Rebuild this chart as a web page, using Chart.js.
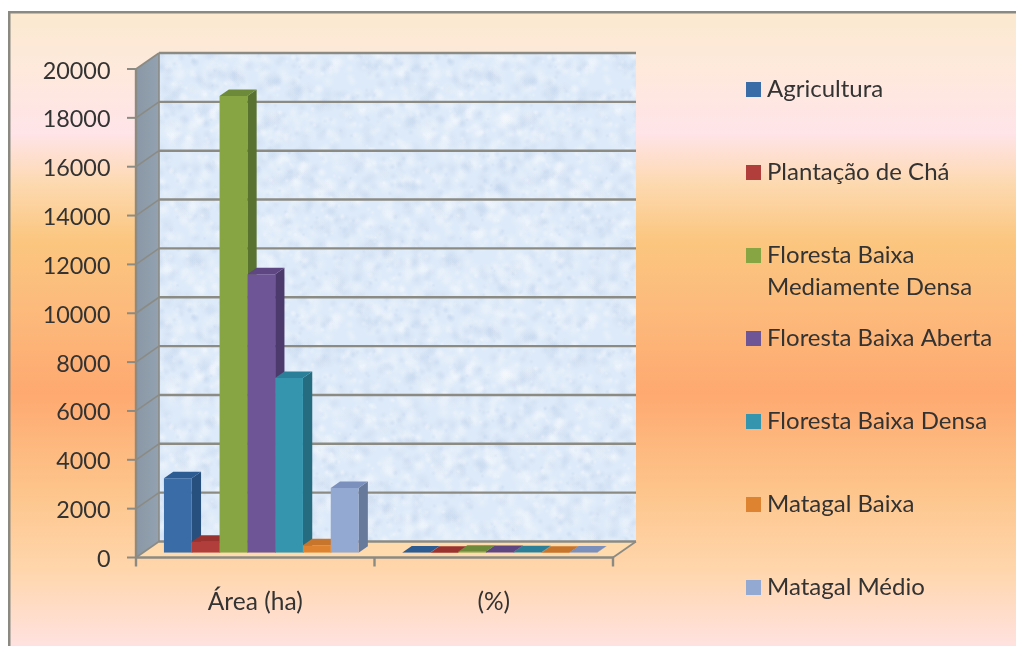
<!DOCTYPE html>
<html><head><meta charset="utf-8">
<style>html,body{margin:0;padding:0;background:#fff}canvas{display:block}</style>
<script src="https://cdn.jsdelivr.net/npm/chart.js@4/dist/chart.umd.js"></script>
</head><body><canvas id="c" width="1016" height="646"></canvas>
<script>
const categories = ['Área (ha)', '(%)'];
const seriesNames = ['Agricultura','Plantação de Chá','Floresta Baixa Mediamente Densa','Floresta Baixa Aberta','Floresta Baixa Densa','Matagal Baixa','Matagal Médio'];
const legendLines = [['Agricultura',''],['Plantação de Chá',''],['Floresta Baixa','Mediamente Densa'],['Floresta Baixa Aberta',''],['Floresta Baixa Densa',''],['Matagal Baixa',''],['Matagal Médio','']];
const agricultura = [3050, 7];
const plantacao = [450, 1];
const florestaMedia = [18700, 43];
const florestaAberta = [11400, 26];
const florestaDensa = [7150, 16];
const matagalBaixa = [300, 1];
const matagalMedio = [2650, 6];
const seriesValues = [agricultura, plantacao, florestaMedia, florestaAberta, florestaDensa, matagalBaixa, matagalMedio];
const frontColors = ['#3A6DA8','#B23E3B','#88A544','#6E5595','#3595AF','#DE8430','#94A9D1'];
const sideColors = ['#27507E','#8C2C2A','#5A7230','#4D3A6D','#256C80','#B4651F','#677A9C'];
const topColors = ['#2C5C91','#9A3330','#6C8A3A','#5D4682','#2C7F98','#C7742C','#7B90BC'];

const AX = 6, AY = 4.8;      // bar plane -> front plane of the box
const DX = 23, DY = -16;     // box depth
const BX = 9.3, BY = -6.5;   // bar depth
const LINE = '#8B8B84';

function wallPattern() {
  const o = document.createElement('canvas'); o.width = o.height = 256;
  const g = o.getContext('2d');
  g.fillStyle = '#DDEAF9'; g.fillRect(0,0,256,256);
  let s = 12345; const r = () => (s = (s * 1103515245 + 12345) & 0x7fffffff) / 0x7fffffff;
  for (let i = 0; i < 1400; i++) {
    const x = r()*256, y = r()*256, rad = 2 + r()*7;
    const c = r() < .6 ? '255,255,255' : '185,204,232';
    for (const [dx,dy] of [[0,0],[256,0],[-256,0],[0,256],[0,-256]]) {
      const gr = g.createRadialGradient(x+dx,y+dy,0,x+dx,y+dy,rad);
      gr.addColorStop(0,'rgba('+c+',.26)'); gr.addColorStop(1,'rgba('+c+',0)');
      g.fillStyle = gr; g.fillRect(x+dx-rad,y+dy-rad,rad*2,rad*2);
    }
  }
  return o;
}
const wallTex = wallPattern();

function poly(ctx, pts, fill) {
  ctx.beginPath(); pts.forEach((p,i)=> i?ctx.lineTo(p[0],p[1]):ctx.moveTo(p[0],p[1])); ctx.closePath();
  ctx.fillStyle = fill; ctx.fill();
}
function line(ctx, x1,y1,x2,y2,w) {
  ctx.beginPath(); ctx.moveTo(x1,y1); ctx.lineTo(x2,y2); ctx.lineWidth = w; ctx.strokeStyle = LINE; ctx.stroke();
}

const box3d = {
  id: 'box3d',
  beforeLayout(chart) {
    const L = chart.legend;
    if (L && !L._patched) {
      const f = L.fit;
      L.fit = function(){ f.call(this); this.width = 397; };
      L._patched = true;
    }
  },
  afterLayout(chart) {
    const L = chart.legend, pad = L.options.labels.padding;
    L.left = 751.5 - pad; L.right = 1016; L.top = 77 - pad; L.bottom = 2000;
  },
  beforeDraw(chart) {
    const c = chart.ctx;
    c.fillStyle = '#fff'; c.fillRect(0,0,1016,646);
    const g = c.createLinearGradient(0,13,0,646);
    [[0,'#FCE9D0'],[.09,'#FEE9DC'],[.19,'#FFE4E8'],[.27,'#FDD9B0'],[.36,'#FBC67F'],[.46,'#FCBB7C'],[.6,'#FEA970'],[.75,'#FDC48A'],[.88,'#FFD6AC'],[1,'#FFE2E0']]
      .forEach(s=>g.addColorStop(s[0],s[1]));
    c.fillStyle = g; c.fillRect(9,12,1007,634);
    c.fillStyle = '#8A8A82'; c.fillRect(8,11,1008,2.5); c.fillRect(8,11,2.5,635);
  },
  beforeDatasetsDraw(chart) {
    const c = chart.ctx, y = chart.scales.y, x = chart.scales.x;
    const fl = x.left - AX, fr = x.right - AX;
    const fy = v => y.getPixelForValue(v) + AY;
    const y0 = fy(0), yT = fy(20000);
    c.save();
    // side wall
    const sg = c.createLinearGradient(fl,0,fl+DX,0);
    sg.addColorStop(0,'#8A97A6'); sg.addColorStop(1,'#93A2B0');
    poly(c, [[fl,yT],[fl+DX,yT+DY],[fl+DX,y0+DY],[fl,y0]], sg);
    // floor
    poly(c, [[fl,y0],[fl+DX,y0+DY],[fr+DX,y0+DY],[fr,y0]], 'rgba(255,226,180,.55)');
    // back wall
    c.save();
    c.beginPath(); c.rect(fl+DX,yT+DY,fr-fl,y0-yT); c.clip();
    c.fillStyle = c.createPattern(wallTex,'repeat'); c.fillRect(fl+DX,yT+DY,fr-fl,y0-yT);
    c.restore();
    // gridlines and y ticks
    y.ticks.forEach(t => {
      const py = fy(t.value);
      line(c, fl+DX, py+DY, fr+DX, py+DY, 2.4);
      line(c, fl, py, fl+DX, py+DY, 1.6);
      line(c, fl-9, py, fl, py, 2);
    });
    // axes
    line(c, fl+DX, yT+DY, fl+DX, y0+DY, 1.6);
    line(c, fl, yT-1, fl, y0+9, 2.4);
    line(c, fl-1, y0, fr+1, y0, 2.6);
    line(c, fr, y0, fr+DX, y0+DY, 1.8);
    categories.forEach((_,i)=>{
      const tx = fl + (fr-fl)*(i+1)/categories.length;
      line(c, tx, y0, tx, y0+9, 2.4);
    });
    // bar sides and tops, left to right; front faces are drawn by Chart.js on top
    categories.forEach((_, ci) => {
      seriesValues.forEach((__, si) => {
        const b = chart.getDatasetMeta(si).data[ci];
        const l = b.x - b.width/2, r = b.x + b.width/2, t = b.y, bt = b.base;
        poly(c, [[r,t],[r+BX,t+BY],[r+BX,bt+BY],[r,bt]], sideColors[si]);
        poly(c, [[l,t],[l+BX,t+BY],[r+BX,t+BY],[r,t]], topColors[si]);
      });
    });
    c.restore();
  }
};

function legendSwatch(color) {
  const o = document.createElement('canvas'); o.width = o.height = 15;
  const g = o.getContext('2d'); g.fillStyle = color; g.fillRect(0,0,15,15);
  return o;
}
const textColor = '#333333';
new Chart(document.getElementById('c'), {
  type: 'bar',
  data: {
    labels: categories,
    datasets: seriesNames.map((n,i)=>({label:n, data:seriesValues[i], backgroundColor:frontColors[i], borderWidth:0,
      categoryPercentage:.816, barPercentage:1}))
  },
  plugins: [box3d],
  options: {
    responsive:false, animation:false, devicePixelRatio:1,
    layout:{padding:{top:64.2,left:0,right:0,bottom:0}},
    scales:{
      x:{
        grid:{display:false,drawTicks:false}, border:{display:false},
        ticks:{font:{family:'Lato', size:24.5}, color:textColor, padding:34.5, labelOffset:-AX, maxRotation:0},
        afterFit(s){s.height=93.3;}
      },
      y:{
        min:0,max:20000,
        grid:{display:false,drawTicks:false}, border:{display:false},
        ticks:{font:{family:'Lato', size:23.4}, color:textColor, padding:31.5, stepSize:2000, labelOffset:AY+2, callback:v=>String(v)},
        afterFit(s){s.width=142;}
      }
    },
    plugins:{
      tooltip:{enabled:false},
      legend:{
        position:'right', align:'start',
        labels:{
          font:{family:'Lato', size:24, lineHeight:'32px'}, color:textColor, padding:19,
          usePointStyle:true, pointStyleWidth:3.5, boxHeight:15,
          generateLabels(){ return legendLines.map((t,i)=>({text:t, datasetIndex:i, pointStyle:legendSwatch(frontColors[i]), fillStyle:frontColors[i], fontColor:textColor, lineWidth:0, strokeStyle:'transparent', hidden:false})); }
        }
      }
    }
  }
});
</script></body></html>
